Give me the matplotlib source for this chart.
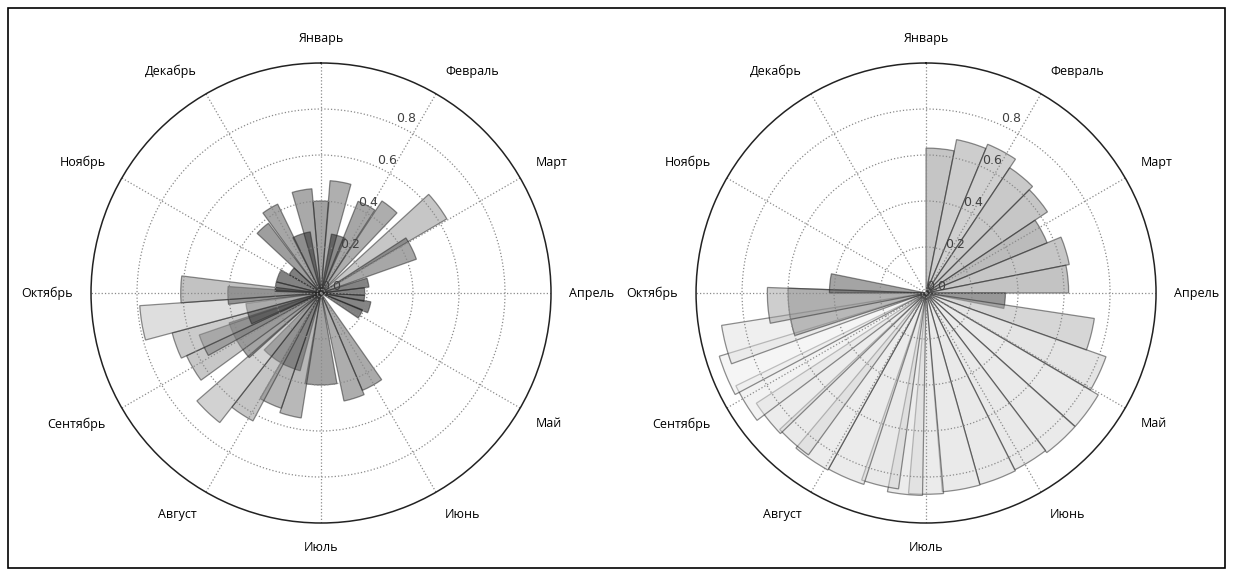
import numpy as np
import matplotlib
matplotlib.use("Agg")
import matplotlib.pyplot as plt
from matplotlib.patches import Rectangle

plt.rcParams['font.family'] = ['Open Sans', 'DejaVu Sans']

months = ['Январь', 'Февраль', 'Март', 'Апрель', 'Май', 'Июнь',
          'Июль', 'Август', 'Сентябрь', 'Октябрь', 'Ноябрь', 'Декабрь']
r_ticks = [0.0, 0.2, 0.4, 0.6, 0.8]

# left chart: bar start angle (deg, clockwise from Jan), width (deg), value
left_start = [355, 4.6, 344, 10, 333, 324, 313, 22, 33.5, 47.5, 57, 72, 83, 93, 100, 112,
              145, 157, 170, 195, 189, 199, 208, 218, 228, 234, 241, 245, 246,
              255, 263, 266, 272, 284, 300]
left_width = [10, 10.8, 11, 14, 17, 10, 10, 11, 10, 12, 13.5, 11, 10, 8, 13, 12,
              12, 11, 20, 30, 10, 11, 10, 11, 24, 11, 10, 10, 16,
              11, 11, 11, 12, 16, 13]
left_value = [0.40, 0.49, 0.455, 0.26, 0.27, 0.43, 0.38, 0.43, 0.48, 0.635, 0.44, 0.21, 0.19, 0.19, 0.22, 0.195,
              0.46, 0.48, 0.40, 0.35, 0.55, 0.53, 0.63, 0.715, 0.42, 0.645, 0.56, 0.67, 0.33,
              0.79, 0.405, 0.61, 0.20, 0.20, 0.16]

# right chart
right_start = [0, 11.25, 22.5, 33.75, 45, 56.25, 67.5, 78.75, 90, 98.6, 109.5, 120.6,
               131.9, 142.8, 153.3, 164.3, 175, 181, 188, 198, 209, 216, 226, 233,
               242, 250, 252, 259, 270]
right_width = [11.25, 11.25, 11.25, 11.25, 11.25, 11.25, 11.25, 11.25, 11.25, 11, 11, 11.2,
               11, 10.6, 11, 11, 10, 10, 11, 11, 11, 11, 11, 11,
               11, 11, 20, 13, 11.5]
right_value = [0.63, 0.68, 0.70, 0.655, 0.635, 0.57, 0.635, 0.62, 0.345, 0.74, 0.83, 0.87,
               0.87, 0.86, 0.865, 0.867, 0.875, 0.88, 0.86, 0.875, 0.88, 0.87, 0.88, 0.92,
               0.94, 0.90, 0.60, 0.69, 0.42]

norm = plt.Normalize(vmin=0.18, vmax=1.0)


def draw_rose(ax, start, width, value):
    ax.set_theta_zero_location('N')
    ax.set_theta_direction(-1)
    colors = plt.cm.gray(norm(np.array(value)))
    ax.bar(np.radians(start), value, width=np.radians(width), bottom=0.0,
           align='edge', color=colors, alpha=0.5, edgecolor='#202020', linewidth=0.9)
    ax.set_ylim(0, 1.0)
    ax.set_yticks(r_ticks)
    ax.set_yticklabels(['%.1f' % t for t in r_ticks], fontsize=9, color='#404040',
                       family='DejaVu Sans')
    ax.set_rlabel_position(24)
    ax.set_xticks(np.radians(np.arange(0, 360, 30)))
    ax.set_xticklabels([])
    ax.grid(True, linestyle=':', color='#8a8a8a', linewidth=0.9)
    ax.spines['polar'].set_color('#222222')
    ax.spines['polar'].set_linewidth(1.1)
    for i, name in enumerate(months):
        ang = np.radians(i * 30)
        s, c = np.sin(ang), np.cos(ang)
        ha = 'left' if s > 0.1 else ('right' if s < -0.1 else 'center')
        va = 'bottom' if c > 0.1 else ('top' if c < -0.1 else 'center')
        ax.text(ang, 1.08, name, ha=ha, va=va, fontsize=9)


fig = plt.figure(figsize=(12.33, 5.76), dpi=100)
ax1 = fig.add_axes([0.0738, 0.092, 0.3731, 0.7986], projection='polar')
ax2 = fig.add_axes([0.5645, 0.092, 0.3731, 0.7986], projection='polar')
draw_rose(ax1, left_start, left_width, left_value)
draw_rose(ax2, right_start, right_width, right_value)

fig.patches.append(Rectangle((8 / 1233, 8 / 576), 1217 / 1233, 560 / 576,
                             transform=fig.transFigure, fill=False,
                             edgecolor='black', linewidth=1.2))

fig.savefig('out.png', dpi=100)
